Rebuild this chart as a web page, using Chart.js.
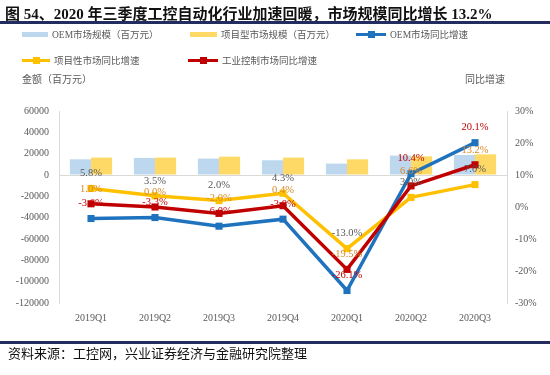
<!DOCTYPE html>
<html>
<head>
<meta charset="utf-8">
<script src="https://cdn.jsdelivr.net/npm/chart.js@4.4.0/dist/chart.umd.min.js"></script>
<style>
    body { margin: 0; background: #fff; }
    #wrap { position: relative; width: 550px; height: 375px; overflow: hidden; background: #fff; }
    #title { position: absolute; left: 5px; top: 2px; font: bold 15px "Liberation Serif", "Noto Sans CJK SC"; color: #111; white-space: nowrap; }
    .rule { position: absolute; left: 0; width: 550px; height: 3px; background: #232c5e; }
    #source { position: absolute; left: 8px; top: 343px; font: 13px "Noto Sans CJK SC"; color: #111; white-space: nowrap; }
    .axisTitle { position: absolute; font: 10px "Liberation Serif", "Noto Sans CJK SC"; color: #595959; white-space: nowrap; }
    .legItem { position: absolute; height: 12px; font: 9.5px "Liberation Serif", "Noto Sans CJK SC"; color: #595959; white-space: nowrap; }
    canvas { position: absolute; left: 0; top: 0; }
</style>
</head>
<body>
<div id="wrap">
    <canvas id="myChart" width="550" height="375"></canvas>
    <div id="title">图 54、2020 年三季度工控自动化行业加速回暖，市场规模同比增长 13.2%</div>
    <div class="rule" style="top:21px"></div>
    <div class="axisTitle" style="left:22px; top:71px">金额（百万元）</div>
    <div class="axisTitle" style="left:465px; top:71px">同比增速</div>
    <div id="legend"></div>
    <div class="rule" style="top:341px"></div>
    <div id="source">资料来源：工控网，兴业证券经济与金融研究院整理</div>
</div>
<script>
const quarters = ['2019Q1', '2019Q2', '2019Q3', '2019Q4', '2020Q1', '2020Q2', '2020Q3'];

// market size, million yuan (left axis)
const oemSize = [14700, 16000, 15400, 13800, 10700, 18200, 18800];
const projectSize = [16300, 16300, 17200, 16300, 14700, 17500, 19400];

// yoy growth, % (right axis)
const oemGrowth = [-3.6, -3.3, -6.0, -3.8, -26.1, 10.4, 20.1];
const projectGrowth = [5.8, 3.5, 2.0, 4.3, -13.0, 3.0, 7.0];
const industrialGrowth = [1.0, 0.0, -2.0, 0.4, -19.5, 6.6, 13.2];

const leftTicks = [-120000, -100000, -80000, -60000, -40000, -20000, 0, 20000, 40000, 60000];
const rightTicks = [-30, -20, -10, 0, 10, 20, 30];

const seriesNames = ['OEM市场规模（百万元）', '项目型市场规模（百万元）', 'OEM市场同比增速', '项目性市场同比增速', '工业控制市场同比增速'];

const colors = {
    oemBar: '#bdd7ee',
    projectBar: '#ffd966',
    oemLine: '#1f72bd',
    projectLine: '#ffc000',
    industrialLine: '#c00000'
};

function lineDataset(label, data, color, labelColor, order) {
    return {
        type: 'line',
        label: label,
        data: data,
        yAxisID: 'y1',
        borderColor: color,
        backgroundColor: color,
        borderWidth: 3.5,
        pointStyle: 'rect',
        pointRadius: 5,
        pointBorderWidth: 0,
        tension: 0,
        order: order,
        valueLabelColor: labelColor
    };
}

// draws the % value above each line point
const valueLabels = {
    id: 'valueLabels',
    afterDatasetsDraw(chart) {
        const ctx = chart.ctx;
        ctx.save();
        ctx.font = '10.5px "Liberation Serif"';
        ctx.textAlign = 'center';
        ctx.textBaseline = 'middle';
        chart.data.datasets.forEach((ds, i) => {
            if (ds.type !== 'line') return;
            const meta = chart.getDatasetMeta(i);
            ctx.fillStyle = ds.valueLabelColor;
            meta.data.forEach((pt, j) => {
                ctx.fillText(ds.data[j].toFixed(1) + '%', pt.x, pt.y - 15);
            });
        });
        ctx.restore();
    }
};

function buildLegend() {
    const specs = [
        { text: seriesNames[0], kind: 'bar', color: colors.oemBar, x: 22, y: 28, w: 26 },
        { text: seriesNames[1], kind: 'bar', color: colors.projectBar, x: 190, y: 28, w: 27 },
        { text: seriesNames[2], kind: 'line', color: colors.oemLine, x: 356, y: 28, w: 30 },
        { text: seriesNames[3], kind: 'line', color: colors.projectLine, x: 22, y: 54, w: 28 },
        { text: seriesNames[4], kind: 'line', color: colors.industrialLine, x: 188, y: 54, w: 30 }
    ];
    const holder = document.getElementById('legend');
    specs.forEach(s => {
        const item = document.createElement('div');
        item.className = 'legItem';
        item.style.left = s.x + 'px';
        item.style.top = s.y + 'px';
        let swatch;
        if (s.kind === 'bar') {
            swatch = '<span style="position:absolute;left:0;top:4px;width:' + s.w + 'px;height:5px;background:' + s.color + '"></span>';
        } else {
            swatch = '<span style="position:absolute;left:0;top:5px;width:' + s.w + 'px;height:3px;background:' + s.color + '"></span>' +
                '<span style="position:absolute;left:' + (s.w / 2 - 3.5) + 'px;top:3px;width:7px;height:7px;background:' + s.color + '"></span>';
        }
        item.innerHTML = swatch + '<span style="position:absolute;left:' + (s.w + 4) + 'px;top:-1px">' + s.text + '</span>';
        holder.appendChild(item);
    });
}

function drawChart() {
    buildLegend();
    const ctx = document.getElementById('myChart').getContext('2d');
    new Chart(ctx, {
        data: {
            labels: quarters,
            datasets: [
                lineDataset(seriesNames[2], oemGrowth, colors.oemLine, '#c00000', 3),
                lineDataset(seriesNames[3], projectGrowth, colors.projectLine, '#595959', 2),
                lineDataset(seriesNames[4], industrialGrowth, colors.industrialLine, '#d58a2b', 1),
                {
                    type: 'bar',
                    label: seriesNames[0],
                    data: oemSize,
                    yAxisID: 'y',
                    backgroundColor: colors.oemBar,
                    categoryPercentage: 0.66,
                    barPercentage: 1.0,
                    order: 10
                },
                {
                    type: 'bar',
                    label: seriesNames[1],
                    data: projectSize,
                    yAxisID: 'y',
                    backgroundColor: colors.projectBar,
                    categoryPercentage: 0.66,
                    barPercentage: 1.0,
                    order: 10
                }
            ]
        },
        options: {
            responsive: false,
            animation: false,
            layout: { padding: { top: 111, left: 0, right: 0, bottom: 0 } },
            plugins: {
                legend: { display: false },
                title: { display: false },
                tooltip: { enabled: false }
            },
            scales: {
                x: {
                    grid: { display: false, drawTicks: false },
                    border: { display: false },
                    ticks: { padding: 9, color: '#595959', font: { family: 'Liberation Serif', size: 10 } },
                    afterFit: scale => { scale.height = 72; }
                },
                y: {
                    position: 'left',
                    min: leftTicks[0],
                    max: leftTicks[leftTicks.length - 1],
                    afterBuildTicks: scale => { scale.ticks = leftTicks.map(v => ({ value: v })); },
                    grid: {
                        drawTicks: false,
                        color: c => (c.tick && c.tick.value === 0 ? '#d9d9d9' : 'rgba(0,0,0,0)'),
                        lineWidth: 1
                    },
                    border: { display: true, color: '#d9d9d9' },
                    ticks: {
                        padding: 10,
                        color: '#595959',
                        font: { family: 'Liberation Serif', size: 10 },
                        callback: v => String(v)
                    },
                    afterFit: scale => { scale.width = 59; }
                },
                y1: {
                    position: 'right',
                    min: rightTicks[0],
                    max: rightTicks[rightTicks.length - 1],
                    afterBuildTicks: scale => { scale.ticks = rightTicks.map(v => ({ value: v })); },
                    grid: { display: false, drawTicks: false },
                    border: { display: true, color: '#d9d9d9' },
                    ticks: {
                        padding: 8,
                        color: '#595959',
                        font: { family: 'Liberation Serif', size: 10 },
                        callback: v => v + '%'
                    },
                    afterFit: scale => { scale.width = 43; }
                }
            }
        },
        plugins: [valueLabels]
    });
}

document.addEventListener('DOMContentLoaded', drawChart);
</script>
</body>
</html>
